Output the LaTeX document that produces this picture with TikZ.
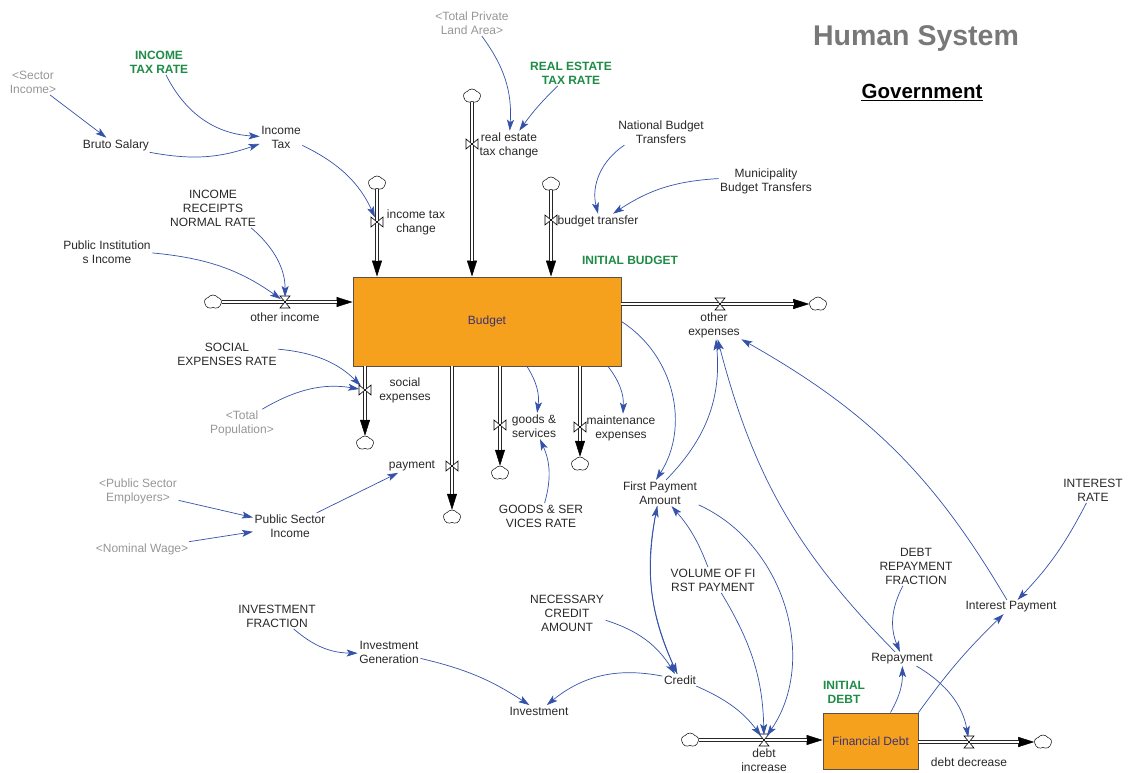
\documentclass[tikz,border=0pt]{standalone}
\usepackage{fontspec}
\setmainfont{Liberation Sans}
\usetikzlibrary{arrows.meta,shapes.symbols,calc}
\definecolor{connblue}{RGB}{52,82,170}
\definecolor{txtdark}{RGB}{40,40,40}
\definecolor{shadowgray}{RGB}{150,150,150}
\definecolor{constgreen}{RGB}{30,140,70}
\definecolor{stockfill}{RGB}{246,161,30}
\definecolor{stockline}{RGB}{90,80,70}
\definecolor{stocktext}{RGB}{60,50,110}
\definecolor{titlegray}{RGB}{120,120,120}
\begin{document}
\begin{tikzpicture}[x=1pt,y=1pt,
  var/.style={align=center, text=txtdark, inner sep=1.5pt, font=\fontsize{12}{14}\selectfont},
  shadowvar/.style={var, text=shadowgray},
  constvar/.style={var, text=constgreen, font=\bfseries\fontsize{12}{14}\selectfont},
  stock/.style={draw=stockline, fill=stockfill, line width=0.9pt, text=stocktext, font=\fontsize{12}{14}\selectfont, inner sep=0pt},
  source/.style={cloud, cloud puffs=5, cloud puff arc=110, aspect=1.2, draw=black, fill=white, line width=0.5pt, minimum width=17pt, minimum height=14pt, inner sep=0pt},
  conn/.style={draw=connblue, line width=0.7pt, -{Stealth[length=11pt,width=7pt,inset=2.5pt]}},
  pipe/.style={draw=black!85, double=white, double distance=2.6pt, line width=0.9pt, shorten >=15.5pt},
  pipetip/.style={black, line width=0.5pt, -{Triangle[length=16pt,width=10pt]}},
  vvalve/.pic={\draw[black, fill=white, line width=0.6pt] (-6,5)--(6,-5)--(6,5)--(-6,-5)--cycle;},
  hvalve/.pic={\draw[black, fill=white, line width=0.6pt] (-5,6)--(5,6)--(-5,-6)--(5,-6)--cycle;}
]
\useasboundingbox (0,0) rectangle (1129,-773);

% titles
\node[font=\bfseries\fontsize{28.5}{30}\selectfont, text=titlegray] (title) at (916,-39) {Human System};
\node[font=\bfseries\fontsize{20.5}{22}\selectfont, text=black, inner sep=0pt] (gov) at (922,-91) {Government};
\draw[line width=1.8pt] ([yshift=-2.5pt]gov.base west) -- ([yshift=-2.5pt]gov.base east);

% stocks
\node[stock, minimum width=268pt, minimum height=89pt] (B) at (487,-321.5) {Budget};
\node[stock, minimum width=95pt, minimum height=56pt] (FD) at (870.5,-741) {Financial Debt};

% shadow variables
\node[shadowvar] (sectinc) at (33,-82) {<Sector\\Income>};
\node[shadowvar] (tpla) at (472,-23) {<Total Private\\Land Area>};
\node[shadowvar] (tpop) at (242,-423.5) {<Total\\Population>};
\node[shadowvar] (pse) at (138,-491) {<Public Sector\\Employers>};
\node[shadowvar] (nw) at (142,-549) {<Nominal Wage>};

% constants
\node[constvar] (itr) at (159,-62) {INCOME\\TAX RATE};
\node[constvar] (rett) at (571,-73) {REAL ESTATE\\TAX RATE};
\node[constvar] (ib) at (630,-260) {INITIAL BUDGET};
\node[constvar] (idebt) at (844,-692) {INITIAL\\DEBT};

% variables
\node[var] (bs) at (116,-145) {Bruto Salary};
\node[var] (it) at (281,-137) {Income\\Tax};
\node[var] (irnr) at (213,-208) {INCOME\\RECEIPTS\\NORMAL RATE};
\node[var] (pii) at (107,-252.5) {Public Institution\\s Income};
\node[var] (nbt) at (661,-132) {National Budget\\Transfers};
\node[var] (mbt) at (766,-181) {Municipality\\Budget Transfers};
\node[var] (ser) at (227,-354) {SOCIAL\\EXPENSES RATE};
\node[var] (gsr) at (541,-516) {GOODS \& SER\\VICES RATE};
\node[var] (psi) at (290,-526) {Public Sector\\Income};
\node[var] (fpa) at (660,-493) {First Payment\\Amount};
\node[var] (vfp) at (713,-580) {VOLUME OF FI\\RST PAYMENT};
\node[var] (irate) at (1093,-490) {INTEREST\\RATE};
\node[var] (drf) at (916,-566) {DEBT\\REPAYMENT\\FRACTION};
\node[var] (ip) at (1011,-607) {Interest Payment};
\node[var] (rep) at (902,-659) {Repayment};
\node[var] (invf) at (277,-616) {INVESTMENT\\FRACTION};
\node[var] (invg) at (389,-652) {Investment\\Generation};
\node[var] (nca) at (567,-613) {NECESSARY\\CREDIT\\AMOUNT};
\node[var] (cred) at (680,-680) {Credit};
\node[var] (inv) at (539,-711) {Investment};

% flow labels
\node[var] (l_oi) at (285,-317) {other income};
\node[var] (l_itc) at (416,-222) {income tax\\change};
\node[var] (l_ret) at (509,-145) {real estate\\tax change};
\node[var] (l_bt) at (598,-221) {budget transfer};
\node[var] (l_se) at (405,-390) {social\\expenses};
\node[var] (l_gs) at (534,-426) {goods \&\\services};
\node[var] (l_me) at (621,-428) {maintenance\\expenses};
\node[var] (l_pay) at (412,-466) {payment};
\node[var] (l_oe) at (714,-325) {other\\expenses};
\node[var] (l_di) at (764,-760) {debt\\increase};
\node[var] (l_dd) at (969,-762) {debt decrease};

% clouds
\node[source] (c_itc) at (377,-183) {};
\node[source] (c_ret) at (472,-96) {};
\node[source] (c_bt) at (551,-184) {};
\node[source] (c_oi) at (213,-302) {};
\node[source] (c_se) at (365,-443) {};
\node[source] (c_pay) at (452,-517) {};
\node[source] (c_gs) at (500,-473) {};
\node[source] (c_me) at (580,-464) {};
\node[source] (c_oe) at (818,-304) {};
\node[source] (c_di) at (690,-740) {};
\node[source] (c_dd) at (1043,-742) {};

% valves
\coordinate (v_itc) at (377,-222);
\coordinate (v_ret) at (472,-144);
\coordinate (v_bt) at (551,-220);
\coordinate (v_oi) at (285,-302);
\coordinate (v_se) at (365,-390);
\coordinate (v_pay) at (452,-466);
\coordinate (v_gs) at (500,-425);
\coordinate (v_me) at (580,-427);
\coordinate (v_oe) at (720,-304);
\coordinate (v_di) at (764,-740);
\coordinate (v_dd) at (969,-742);

% pipes
\draw[pipetip] (c_itc.south) -- (c_itc.south |- B.north);
\draw[pipe] (c_itc.south) -- (c_itc.south |- B.north);
\draw[pipetip] (c_ret.south) -- (c_ret.south |- B.north);
\draw[pipe] (c_ret.south) -- (c_ret.south |- B.north);
\draw[pipetip] (c_bt.south) -- (c_bt.south |- B.north);
\draw[pipe] (c_bt.south) -- (c_bt.south |- B.north);
\draw[pipetip] (c_oi.east) -- (c_oi.east -| B.west);
\draw[pipe] (c_oi.east) -- (c_oi.east -| B.west);
\draw[pipetip] (c_se.north |- B.south) -- (c_se.north);
\draw[pipe] (c_se.north |- B.south) -- (c_se.north);
\draw[pipetip] (c_pay.north |- B.south) -- (c_pay.north);
\draw[pipe] (c_pay.north |- B.south) -- (c_pay.north);
\draw[pipetip] (c_gs.north |- B.south) -- (c_gs.north);
\draw[pipe] (c_gs.north |- B.south) -- (c_gs.north);
\draw[pipetip] (c_me.north |- B.south) -- (c_me.north);
\draw[pipe] (c_me.north |- B.south) -- (c_me.north);
\draw[pipetip] (B.east |- c_oe.west) -- (c_oe.west);
\draw[pipe] (B.east |- c_oe.west) -- (c_oe.west);
\draw[pipetip] (c_di.east) -- (c_di.east -| FD.west);
\draw[pipe] (c_di.east) -- (c_di.east -| FD.west);
\draw[pipetip] (FD.east |- c_dd.west) -- (c_dd.west);
\draw[pipe] (FD.east |- c_dd.west) -- (c_dd.west);

\pic at (v_itc) {vvalve};
\pic at (v_ret) {vvalve};
\pic at (v_bt) {vvalve};
\pic at (v_se) {vvalve};
\pic at (v_pay) {vvalve};
\pic at (v_gs) {vvalve};
\pic at (v_me) {vvalve};
\pic at (v_oi) {hvalve};
\pic at (v_oe) {hvalve};
\pic at (v_di) {hvalve};
\pic at (v_dd) {hvalve};

% connectors
\draw[conn] (sectinc) -- (bs);
\draw[conn] (itr) to[bend right=30] (it);
\draw[conn] (bs) to[bend right=15] (it);
\draw[conn, shorten >=5pt] (it) to[bend left=20] (v_itc);
\draw[conn, shorten >=5pt] (irnr) to[bend left=25] (v_oi);
\draw[conn, shorten >=5pt] (pii) to[bend left=15] (v_oi);
\draw[conn] (tpla) to[bend left=20] (l_ret);
\draw[conn] (rett) to[bend right=5] (l_ret);
\draw[conn] (nbt) to[bend right=35] (l_bt);
\draw[conn] (mbt) to[bend right=15] ([xshift=15pt]l_bt.north);
\draw[conn, shorten >=6pt] (ser) to[bend left=20] (v_se);
\draw[conn, shorten >=6pt] (tpop) to[bend left=20] (v_se);
\draw[conn] ([xshift=40pt]B.south) to[bend left=20] (l_gs);
\draw[conn] (gsr) to[bend right=20] (l_gs);
\draw[conn] ([xshift=121pt]B.south) to[bend left=20] (l_me);
\draw[conn] (pse) -- (psi);
\draw[conn] (nw) -- (psi);
\draw[conn] (psi) -- (l_pay);
\draw[conn] (B.east) to[bend left=45] ([xshift=-4pt]fpa.north);
\draw[conn] ([xshift=6pt]fpa.north) to[bend right=25] (l_oe);
\draw[conn] (rep) to[bend left=15] (l_oe);
\draw[conn] (ip) to[bend right=15] (l_oe.south east);
\draw[conn] (cred) to[bend left=18] (fpa);
\draw[conn] (fpa) to[bend right=18] (cred);
\draw[conn] (vfp) to[bend right=10] (fpa);
\draw[conn, shorten >=5pt] (vfp) to[bend left=15] (v_di);
\draw[conn, shorten >=5pt] (fpa) to[bend left=50] (v_di);
\draw[conn] (nca) to[bend left=20] (cred);
\draw[conn, shorten >=5pt] (cred) to[bend left=15] (v_di);
\draw[conn] (cred) to[bend right=25] (inv);
\draw[conn] (invf) to[bend right=20] (invg);
\draw[conn] (invg) to[bend left=10] (inv);
\draw[conn] (drf) to[bend right=25] (rep);
\draw[conn] ([xshift=20pt]FD.north) to[bend right=15] (rep);
\draw[conn, shorten >=5pt] (rep) to[bend left=25] (v_dd);
\draw[conn] (FD.north east) to[bend left=5] (ip);
\draw[conn] (irate) to[bend left=8] (ip);
\end{tikzpicture}
\end{document}
